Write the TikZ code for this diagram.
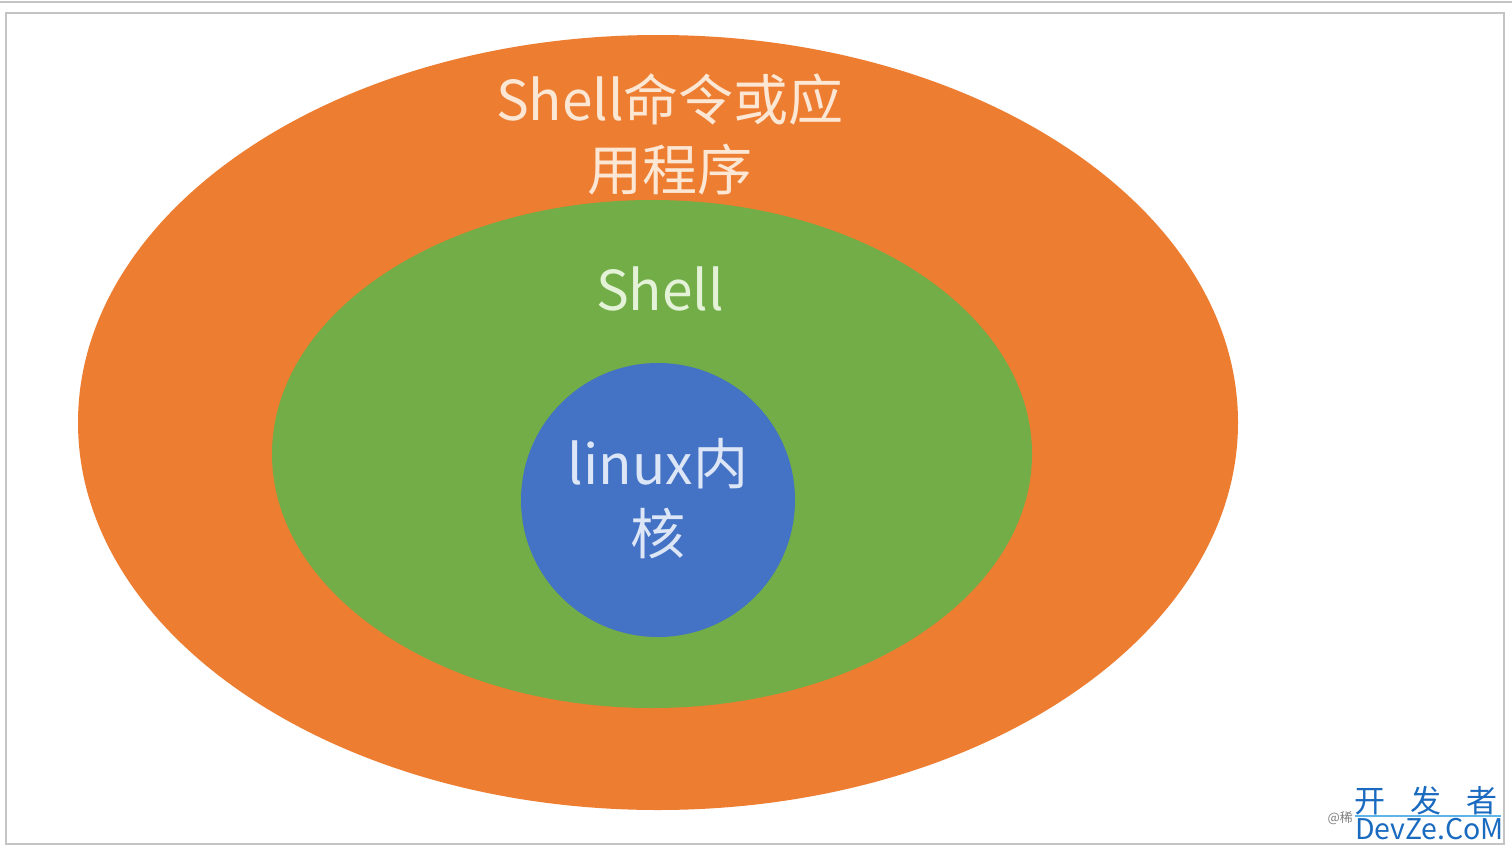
\documentclass[tikz,border=0pt]{standalone}
\usepackage{fontspec}
\setmainfont{Noto Sans CJK SC}
\newfontfamily\cjk{Noto Sans CJK SC}
\definecolor{orangeF}{HTML}{ED7D31}
\definecolor{greenF}{HTML}{72AD47}
\definecolor{blueF}{HTML}{4472C4}
\definecolor{orangeT}{HTML}{FCE6D4}
\definecolor{greenT}{HTML}{E4F2D8}
\definecolor{blueT}{HTML}{DCE6F6}
\definecolor{frameG}{HTML}{C4C4C4}
\definecolor{wmBlue}{HTML}{1A6BC0}
\definecolor{wmLine}{HTML}{5FB4E8}
\tikzset{
  lbl/.style={font=\cjk\fontsize{55}{70}\selectfont, align=center, inner sep=0pt},
  wm/.style={inner sep=0pt, text=wmBlue, anchor=west}
}
\begin{document}
\begin{tikzpicture}[x=1pt,y=-1pt]
\useasboundingbox (0,0) rectangle (1512,851);
\fill[white] (0,0) rectangle (1512,851);
\draw[frameG, line width=2pt] (0,2) -- (1512,2);
\draw[frameG, line width=2pt] (6,13) rectangle (1504,844);
\fill[orangeF] (658,422.5) ellipse [x radius=580, y radius=387.5];
\fill[greenF] (652,454) ellipse [x radius=380, y radius=254];
\fill[blueF] (658,500) circle [radius=137];
\node[lbl, text=orangeT] (app) at (670,134) {Shell命令或应\\用程序};
\node[lbl, text=greenT] (shell) at (660,289) {Shell};
\node[lbl, text=blueT] (kernel) at (658,499) {linux内\\核};
\node[wm, font=\cjk\fontsize{31}{31}\selectfont] (wm1) at (1354,801) {开\hspace{25pt}发\hspace{25pt}者};
\draw[wmLine, line width=1.2pt] (1355,816) -- (1501,816);
\node[wm, font=\cjk\fontsize{28.5}{28.5}\selectfont] (wm2) at (1355,829) {DevZe.CoM};
\node[inner sep=0pt, text=gray, font=\cjk\fontsize{13}{13}\selectfont, anchor=east] (wm3) at (1353,818) {@稀};
\end{tikzpicture}
\end{document}
